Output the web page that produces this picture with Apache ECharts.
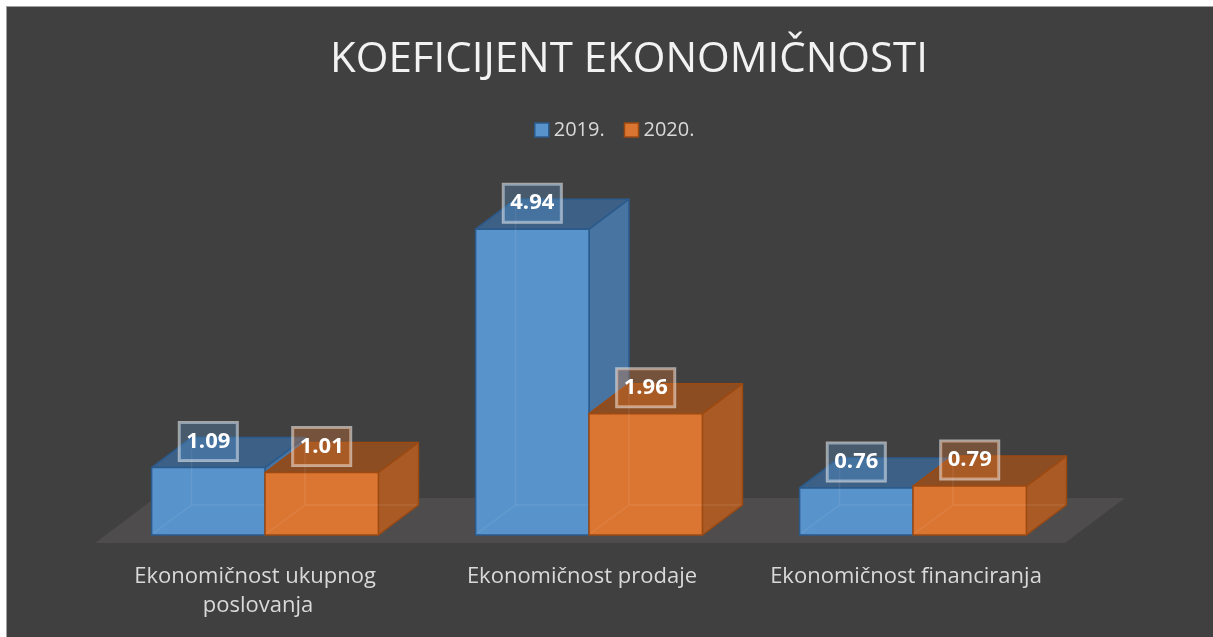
<!DOCTYPE html>
<html lang="hr">
<head>
    <meta charset="UTF-8">
    <title>Koeficijent ekonomičnosti</title>
    <script src="https://cdn.jsdelivr.net/npm/echarts@6/dist/echarts.min.js"></script>
    <style>
        *{
            padding: 0;
            margin: 0;
        }
        body{
            background: #ffffff;
            width: 1213px;
            height: 637px;
            overflow: hidden;
        }
        .frame{
            position: absolute;
            left: 6px;
            top: 6px;
            width: 1207px;
            height: 631px;
            border-left: 1px solid #a0a0a0;
            border-top: 1px solid #a0a0a0;
            background: #404040;
        }
        #chart{
            width: 1206px;
            height: 630px;
        }
    </style>
</head>
<body>
<div class="frame">
    <div id="chart"></div>
</div>
<script>
    var categories = ['Ekonomičnost ukupnog poslovanja', 'Ekonomičnost prodaje', 'Ekonomičnost financiranja'];
    var years = ['2019.', '2020.'];
    var values2019 = [1.09, 4.94, 0.76];
    var values2020 = [1.01, 1.96, 0.79];

    // boje lica kocke: prednje, gornje, desno, rub
    var palette = [
        {front: '#5893cb', top: '#3d6087', side: '#4774a1', edge: '#2b5b8c', label: 'rgba(91,155,213,0.30)'},
        {front: '#db7532', top: '#8c4d22', side: '#aa5b25', edge: '#9c4a12', label: 'rgba(237,125,49,0.30)'}
    ];

    var DX = 40, DY = -30;

    function toPairs(arr) {
        return arr.map(function (v, i) { return [i, v]; });
    }

    function barRender(idx) {
        var c = palette[idx];
        return function (params, api) {
            var cat = api.value(0), val = api.value(1);
            var base = api.coord([cat, 0]);
            var topPt = api.coord([cat, val]);
            var w = api.size([1, 0])[0] * 0.35;
            var x = base[0] - w + idx * w;
            var yb = base[1], yt = topPt[1];
            var edge = {stroke: c.edge, lineWidth: 1.5, lineJoin: 'round'};
            var ghost = {stroke: 'rgba(255,255,255,0.08)', lineWidth: 1.5, fill: null};
            return {
                type: 'group',
                children: [
                    {type: 'polygon', shape: {points: [[x + w, yt], [x + w + DX, yt + DY], [x + w + DX, yb + DY], [x + w, yb]]},
                        style: Object.assign({fill: c.side}, edge)},
                    {type: 'polygon', shape: {points: [[x, yt], [x + DX, yt + DY], [x + w + DX, yt + DY], [x + w, yt]]},
                        style: Object.assign({fill: c.top}, edge)},
                    {type: 'rect', shape: {x: x, y: yt, width: w, height: yb - yt},
                        style: Object.assign({fill: c.front}, edge)},
                    // zadnji bridovi koji se naziru kroz prednje lice
                    {type: 'polyline', shape: {points: [[x + DX, yt + DY + 2], [x + DX, yb + DY], [x + w + DX - 2, yb + DY]]}, style: ghost},
                    {type: 'line', shape: {x1: x + 2, y1: yb - 2, x2: x + DX, y2: yb + DY}, style: ghost},
                    {type: 'text', x: x + w / 2, y: yt - 26, z2: 100,
                        style: {
                            text: val.toFixed(2),
                            fill: '#ffffff',
                            font: 'bold 22px "Open Sans"',
                            align: 'center',
                            verticalAlign: 'middle',
                            lineHeight: 24,
                            backgroundColor: c.label,
                            borderColor: 'rgba(235,235,235,0.6)',
                            borderWidth: 1.5,
                            padding: [7, 7, 7, 7]
                        }}
                ]
            };
        };
    }

    // pod ispod stupaca
    function floorRender(params, api) {
        var cs = params.coordSys;
        var y0 = cs.y + cs.height + 8;
        var xl = cs.x - 8, xr = cs.x + cs.width - 10;
        return {
            type: 'polygon',
            shape: {points: [[xl, y0], [xl + 60, y0 - 45], [xr + 60, y0 - 45], [xr, y0]]},
            style: {fill: '#4e4c4c'}
        };
    }

    var my_chart = echarts.init(document.getElementById('chart'));
    my_chart.setOption({
        backgroundColor: '#404040',
        animation: false,
        graphic: [{
            type: 'text',
            x: 622,
            y: 53,
            style: {
                text: 'KOEFICIJENT EKONOMIČNOSTI',
                fill: '#f2f2f2',
                font: '42px "Open Sans"',
                align: 'center',
                verticalAlign: 'middle'
            }
        }],
        legend: {
            left: 522,
            top: 108,
            itemWidth: 14,
            itemHeight: 14,
            itemGap: 19,
            icon: 'rect',
            textStyle: {color: '#d9d9d9', fontSize: 20, lineHeight: 20, fontFamily: 'Open Sans'},
            data: [
                {name: years[0], itemStyle: {color: palette[0].front, borderColor: palette[0].edge, borderWidth: 1.5}},
                {name: years[1], itemStyle: {color: palette[1].front, borderColor: palette[1].edge, borderWidth: 1.5}}
            ]
        },
        grid: {left: 96, right: 138, top: 218.5, bottom: 102},
        xAxis: {
            type: 'category',
            data: categories,
            axisLine: {show: false},
            axisTick: {show: false},
            axisLabel: {
                interval: 0,
                hideOverlap: false,
                color: '#d9d9d9',
                fontSize: 22,
                lineHeight: 29,
                fontFamily: 'Open Sans',
                margin: 27,
                width: 300,
                overflow: 'break',
                padding: [0, 14, 0, 0]
            }
        },
        yAxis: {type: 'value', min: 0, max: 5, show: false},
        series: [
            {type: 'custom', name: 'floor', silent: true, z: 1, data: [[0, 0]], renderItem: floorRender},
            {type: 'custom', name: years[0], z: 2, data: toPairs(values2019), encode: {x: 0, y: 1},
                itemStyle: {color: palette[0].front}, renderItem: barRender(0)},
            {type: 'custom', name: years[1], z: 3, data: toPairs(values2020), encode: {x: 0, y: 1},
                itemStyle: {color: palette[1].front}, renderItem: barRender(1)}
        ]
    });
</script>
</body>
</html>
